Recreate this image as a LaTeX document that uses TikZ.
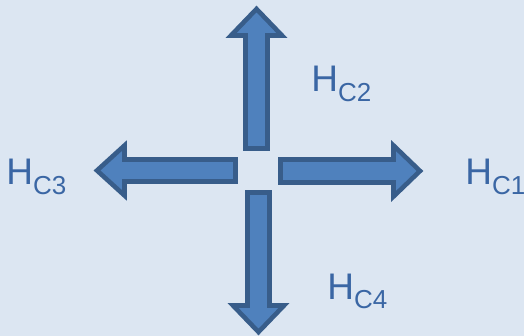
\documentclass[tikz,border=0pt]{standalone}
\usepackage{fontspec}
\setmainfont{Liberation Sans}
\usetikzlibrary{positioning}
\definecolor{bgblue}{RGB}{220,230,242}
\definecolor{arrowfill}{RGB}{79,129,189}
\definecolor{arrowline}{RGB}{56,93,138}
\definecolor{labelblue}{RGB}{58,102,164}
\newcommand{\hsub}[1]{H{\fontsize{13}{13}\selectfont\raisebox{-4.8pt}{#1}}}

\begin{document}
\begin{tikzpicture}[
		x=0.5pt,
		y=-0.5pt,
		blockarrow/.style={draw=arrowline, fill=arrowfill, line width=2.3pt, line join=miter},
		hlabel/.style={font=\fontsize{18.5}{18.5}\selectfont, text=labelblue, inner sep=0pt, anchor=base west}
		]
		% Background
		\fill[bgblue] (0,0) rectangle (524,336);
		\useasboundingbox (0,0) rectangle (524,336);
		
		% Block arrows
		\draw[blockarrow] (245.5,148.5) -- (245.5,35.5) -- (231,35.5) -- (256.5,9) -- (282,35.5) -- (267.5,35.5) -- (267.5,148.5) -- cycle;
		\draw[blockarrow] (247.5,192.5) -- (247.5,305.5) -- (233,305.5) -- (258.5,332) -- (284,305.5) -- (269.5,305.5) -- (269.5,192.5) -- cycle;
		\draw[blockarrow] (235.5,159.5) -- (124.5,159.5) -- (124.5,145.5) -- (97,170.5) -- (124.5,195.5) -- (124.5,181.5) -- (235.5,181.5) -- cycle;
		\draw[blockarrow] (280.5,159.5) -- (393.5,159.5) -- (393.5,145.5) -- (420,171) -- (393.5,196.5) -- (393.5,182.5) -- (280.5,182.5) -- cycle;
		
		% Labels
		\node[hlabel] (hc1) at (465,185) {\hsub{C1}};
		\node[hlabel] (hc2) at (311,92) {\hsub{C2}};
		\node[hlabel] (hc3) at (6,185) {\hsub{C3}};
		\node[hlabel] (hc4) at (327,299) {\hsub{C4}};
	\end{tikzpicture}
\end{document}
